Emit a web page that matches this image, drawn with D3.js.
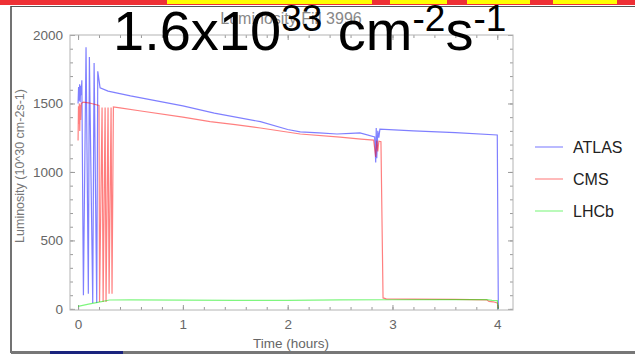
<!DOCTYPE html>
<html>
<head>
<meta charset="utf-8">
<script src="https://cdn.jsdelivr.net/npm/d3@7"></script>
<style>
body { margin:0; background:#fff; }
svg { display:block; font-family:"Liberation Sans", Arial, sans-serif; }
</style>
</head>
<body>
<svg id="chart" width="635" height="354"></svg>
<script>
// Fill 3996 luminosity, hours vs 10^30 cm-2s-1
var atlasT = [0, 0.005, 0.01, 0.015, 0.02, 0.025, 0.03, 0.036, 0.051, 0.076, 0.098, 0.108, 0.14, 0.153, 0.178, 0.188, 0.21, 0.286, 0.5, 1.0, 1.3, 1.74, 2.0, 2.12, 2.3, 2.47, 2.6, 2.69, 2.83, 2.84, 2.845, 2.85, 2.86, 2.87, 2.88, 3.2, 3.6, 4.0, 4.01];
var atlasL = [1500, 1620, 1520, 1640, 1510, 1630, 1560, 1670, 100, 1910, 110, 1840, 44, 1795, 44, 1735, 1615, 1590, 1555, 1483, 1430, 1367, 1310, 1292, 1285, 1277, 1282, 1285, 1255, 1070, 1320, 1100, 1300, 1250, 1313, 1300, 1287, 1270, 0];

var cmsT = [0, 0.004, 0.008, 0.012, 0.016, 0.02, 0.025, 0.03, 0.05, 0.1, 0.2, 0.205, 0.229, 0.239, 0.258, 0.267, 0.286, 0.296, 0.315, 0.324, 0.337, 0.4, 0.6, 1.0, 1.26, 1.5, 1.74, 2.12, 2.5, 2.7, 2.82, 2.84, 2.85, 2.86, 2.87, 2.89, 2.91, 2.94, 3.2, 3.6, 3.9, 3.92, 3.96, 4.0, 4.01];
var cmsL = [1230, 1480, 1350, 1500, 1300, 1490, 1380, 1500, 1510, 1505, 1485, 50, 1470, 50, 1470, 50, 1470, 110, 1470, 110, 1475, 1468, 1445, 1400, 1367, 1345, 1321, 1277, 1255, 1240, 1233, 1110, 1230, 1150, 1225, 1221, 80, 73, 72, 70, 66, 55, 52, 44, 5];

var lhcbT = [0, 0.1, 0.2, 0.3, 0.5, 1.0, 1.5, 2.0, 2.5, 3.0, 3.5, 3.9, 3.95, 4.0, 4.01];
var lhcbL = [18, 35, 50, 65, 66, 64, 62, 63, 66, 67, 68, 68, 62, 60, 0];

var seriesNames = ["ATLAS", "CMS", "LHCb"];
var seriesColors = ["#0000ff", "#ff0000", "#00ee00"];
var xMajor = [0, 1, 2, 3, 4];
var yMajor = [0, 500, 1000, 1500, 2000];

var svg = d3.select("#chart");

// slide decoration
svg.append("rect").attr("x", 0).attr("y", 0).attr("width", 635).attr("height", 5).attr("fill", "#ee3035");
svg.append("rect").attr("x", 167).attr("y", 0).attr("width", 450).attr("height", 4).attr("fill", "#ffff00");
[[372, 18], [447, 20], [530, 23]].forEach(function(g){
	svg.append("rect").attr("x", g[0]).attr("y", 0).attr("width", g[1]).attr("height", 4).attr("fill", "#ee3035");
});
svg.append("line").attr("x1", 11).attr("x2", 635).attr("y1", 6.5).attr("y2", 6.5).attr("stroke", "#555").attr("stroke-width", 1);
svg.append("line").attr("x1", 11).attr("x2", 11).attr("y1", 6).attr("y2", 353).attr("stroke", "#444").attr("stroke-width", 1.5);
svg.append("rect").attr("x", 11).attr("y", 351).attr("width", 624).attr("height", 3).attr("fill", "#777");
svg.append("rect").attr("x", 50).attr("y", 351).attr("width", 73).attr("height", 3).attr("fill", "#1a237e");

var x = d3.scaleLinear().domain([-0.077, 4.15]).range([70, 513]);
var y = d3.scaleLinear().domain([-8, 2000]).range([310, 35]);

var xMinor = d3.range(0, 4.01, 0.2);
var yMinor = d3.range(0, 2001, 100);

function styleAxis(g){
	g.select(".domain").remove();
	g.selectAll(".tick line").attr("stroke", "#9a9a9a");
	g.selectAll(".tick text").attr("fill", "#666").style("font-size", "13.5px").style("font-family", "Liberation Sans, Arial, sans-serif");
}

// minor ticks
svg.append("g").attr("transform", "translate(0,310)")
	.call(d3.axisBottom(x).tickValues(xMinor).tickSize(-3).tickFormat("")).call(styleAxis);
svg.append("g").attr("transform", "translate(0,35)")
	.call(d3.axisTop(x).tickValues(xMinor).tickSize(-3).tickFormat("")).call(styleAxis);
svg.append("g").attr("transform", "translate(70,0)")
	.call(d3.axisLeft(y).tickValues(yMinor).tickSize(-3).tickFormat("")).call(styleAxis);
svg.append("g").attr("transform", "translate(513,0)")
	.call(d3.axisRight(y).tickValues(yMinor).tickSize(-3).tickFormat("")).call(styleAxis);

// major ticks
svg.append("g").attr("transform", "translate(0,310)")
	.call(d3.axisBottom(x).tickValues(xMajor).tickSize(-5).tickPadding(9).tickFormat(d3.format("d"))).call(styleAxis);
svg.append("g").attr("transform", "translate(0,35)")
	.call(d3.axisTop(x).tickValues(xMajor).tickSize(-5).tickFormat("")).call(styleAxis);
svg.append("g").attr("transform", "translate(70,0)")
	.call(d3.axisLeft(y).tickValues(yMajor).tickSize(-5).tickPadding(7).tickFormat(d3.format("d"))).call(styleAxis);
svg.append("g").attr("transform", "translate(513,0)")
	.call(d3.axisRight(y).tickValues(yMajor).tickSize(-5).tickFormat("")).call(styleAxis);

// frame
svg.append("rect").attr("x", 70).attr("y", 35).attr("width", 443).attr("height", 275)
	.attr("fill", "none").attr("stroke", "#b4b4b4").attr("stroke-width", 1);

var series = [
	{name: seriesNames[0], color: seriesColors[0], t: atlasT, v: atlasL},
	{name: seriesNames[1], color: seriesColors[1], t: cmsT, v: cmsL},
	{name: seriesNames[2], color: seriesColors[2], t: lhcbT, v: lhcbL}
];

var line = d3.line().x(function(d){ return x(d[0]); }).y(function(d){ return y(d[1]); });

svg.append("g").selectAll("path").data(series).enter().append("path")
	.attr("d", function(s){ return line(d3.zip(s.t, s.v)); })
	.attr("fill", "none")
	.attr("stroke", function(s){ return s.color; })
	.attr("stroke-opacity", 0.5)
	.attr("stroke-width", 1.2);

// axis titles
svg.append("text").attr("x", 291).attr("y", 348).attr("text-anchor", "middle")
	.attr("fill", "#666").style("font-size", "13.5px").text("Time (hours)");
svg.append("text").attr("transform", "translate(24,166) rotate(-90)").attr("text-anchor", "middle")
	.attr("fill", "#777").style("font-size", "12.5px").text("Luminosity (10^30 cm-2s-1)");
svg.append("text").attr("x", 291).attr("y", 24).attr("text-anchor", "middle")
	.attr("fill", "#888").style("font-size", "16px").text("Luminosity Fill 3996");

// legend
var leg = svg.append("g").selectAll("g").data(series).enter().append("g")
	.attr("transform", function(s, i){ return "translate(535," + (147 + i * 32) + ")"; });
leg.append("line").attr("x1", 0).attr("x2", 28).attr("y1", 0).attr("y2", 0)
	.attr("stroke", function(s){ return s.color; }).attr("stroke-opacity", 0.45).attr("stroke-width", 1.2);
leg.append("text").attr("x", 38).attr("y", 5.5).attr("fill", "#222").style("font-size", "16px")
	.text(function(s){ return s.name; });

// slide overlay text
var big = svg.append("text").attr("x", 113).attr("y", 50).attr("fill", "#000")
	.style("font-family", "Liberation Sans, Arial, sans-serif").style("font-size", "56px");
big.append("tspan").text("1.6x10");
big.append("tspan").attr("dy", -19).style("font-size", "37px").text("33");
big.append("tspan").attr("dy", 19).text(" cm");
big.append("tspan").attr("dy", -19).style("font-size", "37px").text("-2");
big.append("tspan").attr("dy", 19).text("s");
big.append("tspan").attr("dy", -19).style("font-size", "37px").text("-1");
</script>
</body>
</html>
